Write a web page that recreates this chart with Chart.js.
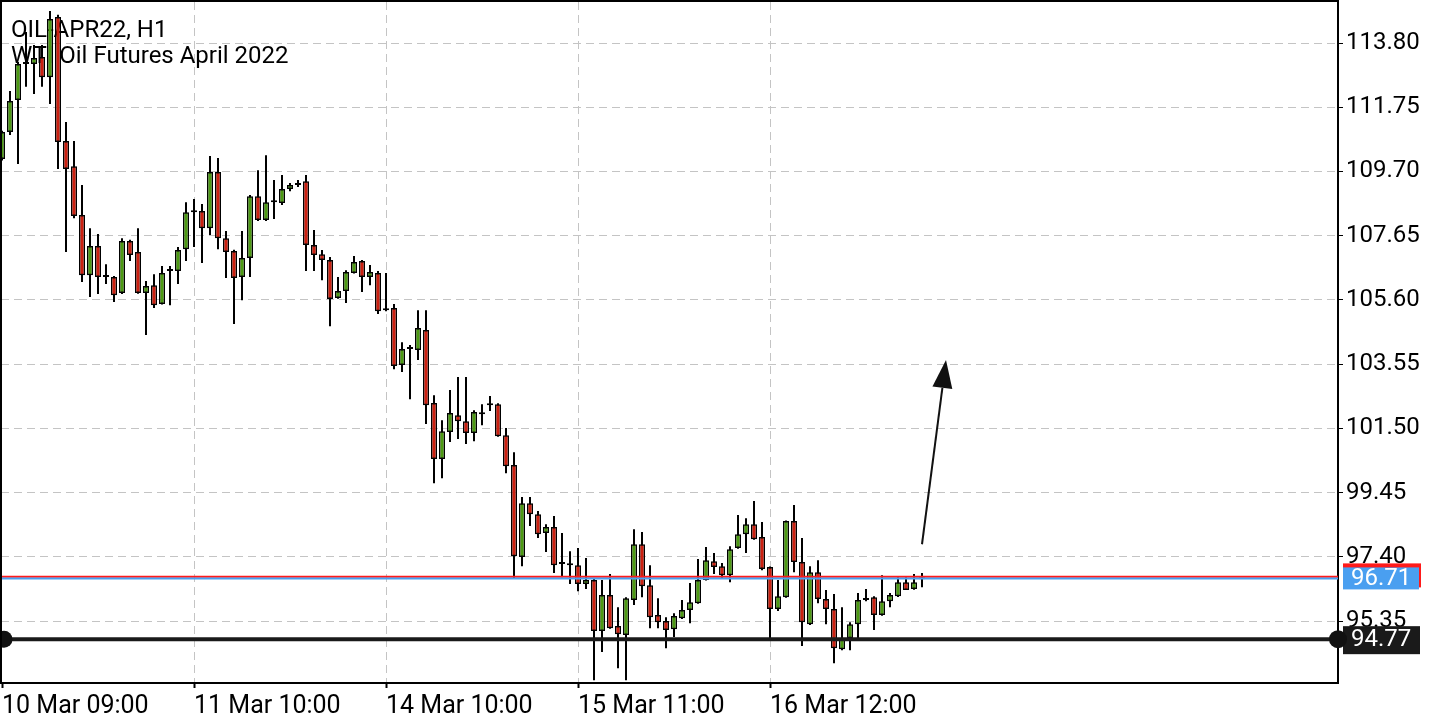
<!DOCTYPE html>
<html><head><meta charset="utf-8">
<script src="https://cdn.jsdelivr.net/npm/chart.js@4.4.1/dist/chart.umd.min.js"></script>
<style>html,body{margin:0;padding:0;background:#fff;overflow:hidden}#wrap{width:1440px;height:720px;position:relative}</style>
</head><body><div id="wrap"><canvas id="c" width="1440" height="720"></canvas></div>
<script>
const symbolTitle = 'OIL-APR22, H1';
const symbolDesc = 'WTI Oil Futures April 2022';

const opens = [110.10,110.96,111.98,113.13,113.13,113.35,112.71,114.63,110.67,109.87,
108.31,106.39,107.32,106.33,106.33,105.82,107.48,107.13,105.82,106.07,
105.47,106.52,106.52,107.22,108.40,108.44,107.89,109.68,107.57,107.16,
106.33,106.94,108.91,108.15,108.72,108.69,109.14,109.27,109.39,107.35,
107.06,106.87,105.66,105.88,106.46,106.84,106.33,106.46,105.27,105.34,
103.52,104.03,104.00,104.64,102.31,100.52,101.38,101.92,101.73,101.35,
101.95,102.24,102.27,101.28,100.33,97.39,99.11,98.76,98.16,98.35,
97.17,97.13,97.13,96.53,96.66,95.03,96.18,95.19,94.90,96.02,
97.80,96.49,95.54,95.35,95.09,95.44,95.70,95.92,96.66,97.26,
97.10,96.81,97.68,98.12,98.44,98.03,97.07,95.73,96.11,98.54,
97.23,95.25,96.91,96.05,95.73,94.45,94.80,95.25,96.02,96.11,
95.54,95.98,96.14,96.59,96.37,96.68];
const highs = [111.00,112.27,113.19,114.15,113.74,113.74,114.82,114.70,111.28,110.67,
109.27,107.89,107.70,106.74,106.36,107.57,107.52,107.89,106.20,106.42,
106.68,106.68,107.29,108.72,108.82,108.66,110.19,110.13,107.80,107.20,
107.80,108.95,109.74,110.22,109.43,109.59,109.33,109.43,109.59,107.83,
107.19,106.97,106.33,106.55,107.00,106.87,106.71,106.52,106.46,105.47,
104.25,104.16,105.27,105.27,102.56,101.76,102.72,103.14,103.14,102.08,
102.27,102.53,102.30,101.51,100.74,99.31,99.31,98.86,98.44,98.70,
98.16,97.58,97.68,97.36,96.69,96.66,96.85,95.79,96.11,98.28,
98.19,97.13,96.08,95.47,95.60,96.02,96.56,97.33,97.71,97.52,
97.20,97.74,98.73,98.63,99.18,98.51,97.09,96.66,98.56,99.05,
98.00,97.10,97.29,96.34,96.21,95.79,95.31,96.24,96.37,96.14,
96.81,96.24,96.75,96.75,96.85,96.88];
const lows = [110.05,110.86,109.94,112.40,112.17,112.40,111.85,109.78,107.13,108.21,
106.17,105.69,105.79,106.11,105.53,105.79,106.84,105.80,104.48,105.34,
105.45,105.43,106.11,106.84,107.29,106.78,107.67,107.22,106.30,104.83,
105.59,106.33,108.12,108.12,108.18,108.63,109.07,109.20,106.52,106.52,
106.23,104.76,105.64,105.50,106.44,105.85,106.07,105.15,105.24,103.39,
103.30,102.43,103.68,101.64,99.75,99.91,101.06,101.16,101.00,101.09,
101.60,102.05,101.23,100.07,96.69,97.10,98.38,98.00,97.55,96.88,
96.75,96.53,96.30,96.37,93.46,94.36,95.10,93.84,93.46,95.86,
96.11,95.12,95.12,94.48,94.84,95.41,95.28,95.90,96.64,96.85,
96.69,96.59,97.66,97.52,97.94,96.97,94.80,95.67,96.09,96.91,
94.55,95.22,95.92,95.25,94.00,94.42,94.42,94.77,95.98,95.06,
95.52,95.79,96.12,96.34,96.35,96.43];
const closes = [110.96,111.95,113.13,113.13,113.32,112.71,114.57,110.64,109.78,108.28,
106.39,107.32,106.33,106.33,105.75,107.48,107.03,105.82,106.04,105.43,
106.46,106.52,107.19,108.40,108.40,107.89,109.68,107.57,107.13,106.30,
106.94,108.91,108.15,108.72,108.72,109.14,109.27,109.27,107.35,107.03,
106.87,105.63,105.88,106.49,106.81,106.33,106.49,105.24,105.27,103.49,
104.03,104.03,104.70,102.24,100.52,101.41,101.99,101.73,101.35,102.02,
101.95,102.24,101.25,100.29,97.42,99.11,98.76,98.12,98.35,97.13,
97.17,97.13,96.53,96.66,95.03,96.18,95.12,94.93,96.08,97.80,
96.46,95.47,95.31,95.06,95.51,95.70,95.95,96.66,97.29,97.07,
96.81,97.64,98.12,98.44,97.96,97.01,95.73,96.14,98.54,97.23,
95.31,96.91,96.05,95.73,94.48,94.80,95.25,96.02,96.02,95.54,
95.98,96.18,96.59,96.34,96.59,96.68];

const tickPositions = [0, 24, 48, 72, 96];
const tickLabels = ['10 Mar 09:00', '11 Mar 10:00', '14 Mar 10:00', '15 Mar 11:00', '16 Mar 12:00'];
const priceTicks = [113.80, 111.75, 109.70, 107.65, 105.60, 103.55, 101.50, 99.45, 97.40, 95.35];
const bidPrice = 96.71;
const askPrice = 96.76;
const levelPrice = 94.77;
const arrowFrom = [115, 97.80];
const arrowTo = [118, 103.68];

const GREEN = '#4c9a12';
const RED = '#cc2010';
const FONT = 'Roboto';
const FS = 24;

const bodyData = opens.map((o, i) => ({x: i, y: [o, closes[i]]}));
const wickData = lows.map((l, i) => ({x: i, y: [l, highs[i]]}));

const overlay = {
  id: 'overlay',
  beforeDatasetsDraw(chart) {
    const ctx = chart.ctx;
    ctx.save();
    ctx.fillStyle = '#000';
    ctx.font = FS + 'px ' + FONT;
    ctx.textBaseline = 'alphabetic';
    ctx.textAlign = 'left';
    ctx.fillText(symbolTitle, 11, 37);
    ctx.fillText(symbolDesc, 11, 63);
    ctx.restore();
  },
  afterDatasetsDraw(chart) {
    const ctx = chart.ctx, xs = chart.scales.x, ys = chart.scales.y, a = chart.chartArea;
    ctx.save();
    const yAsk = ys.getPixelForValue(askPrice), yBid = ys.getPixelForValue(bidPrice);
    ctx.lineWidth = 2;
    ctx.strokeStyle = '#ff1a1a';
    ctx.beginPath(); ctx.moveTo(a.left, yAsk); ctx.lineTo(a.right, yAsk); ctx.stroke();
    ctx.strokeStyle = '#4a9ff0';
    ctx.beginPath(); ctx.moveTo(a.left, yBid); ctx.lineTo(a.right, yBid); ctx.stroke();
    const yL = ys.getPixelForValue(levelPrice);
    ctx.lineWidth = 4;
    ctx.strokeStyle = '#1a1a1a';
    ctx.beginPath(); ctx.moveTo(a.left, yL); ctx.lineTo(a.right, yL); ctx.stroke();
    ctx.fillStyle = '#111';
    ctx.beginPath(); ctx.arc(a.left + 3, yL, 8.5, 0, Math.PI * 2); ctx.fill();
    const x1 = xs.getPixelForValue(arrowFrom[0]), y1 = ys.getPixelForValue(arrowFrom[1]);
    const x2 = xs.getPixelForValue(arrowTo[0]), y2 = ys.getPixelForValue(arrowTo[1]);
    const ang = Math.atan2(y2 - y1, x2 - x1);
    const hl = 28, hw = 10;
    const bx = x2 - hl * Math.cos(ang), by = y2 - hl * Math.sin(ang);
    ctx.strokeStyle = '#111';
    ctx.lineWidth = 2;
    ctx.beginPath(); ctx.moveTo(x1, y1); ctx.lineTo(bx, by); ctx.stroke();
    ctx.fillStyle = '#111';
    ctx.beginPath();
    ctx.moveTo(x2, y2);
    ctx.lineTo(bx + hw * Math.sin(ang), by - hw * Math.cos(ang));
    ctx.lineTo(bx - hw * Math.sin(ang), by + hw * Math.cos(ang));
    ctx.closePath(); ctx.fill();
    ctx.restore();
  },
  afterDraw(chart) {
    const ctx = chart.ctx, ys = chart.scales.y, a = chart.chartArea;
    ctx.save();
    ctx.strokeStyle = '#000'; ctx.lineWidth = 2;
    ctx.beginPath(); ctx.moveTo(a.left, 1); ctx.lineTo(a.right + 1, 1); ctx.stroke();
    ctx.beginPath(); ctx.moveTo(1, 0); ctx.lineTo(1, a.bottom); ctx.stroke();
    const yBid = ys.getPixelForValue(bidPrice);
    ctx.fillStyle = '#ff1a1a';
    ctx.fillRect(a.right + 5, yBid - 15, 78, 24);
    ctx.fillStyle = '#4a9ff0';
    ctx.fillRect(a.right + 5, yBid - 11, 76, 22);
    ctx.fillStyle = '#fff';
    ctx.font = FS + 'px ' + FONT;
    ctx.textBaseline = 'middle';
    ctx.fillText(bidPrice.toFixed(2), a.right + 13, yBid + 1);
    const yL = ys.getPixelForValue(levelPrice);
    ctx.fillStyle = '#1a1a1a';
    ctx.fillRect(a.right + 5, yL - 13, 77, 28);
    ctx.fillStyle = '#111';
    ctx.beginPath(); ctx.arc(a.right, yL, 9, 0, Math.PI * 2); ctx.fill();
    ctx.fillStyle = '#fff';
    ctx.fillText(levelPrice.toFixed(2), a.right + 13, yL + 1);
    ctx.restore();
  }
};

new Chart(document.getElementById('c'), {
  type: 'bar',
  data: {
    datasets: [
      {
        label: 'body', data: bodyData, order: 0, grouped: false,
        barThickness: 6, minBarLength: 2, borderWidth: 1.5, borderSkipped: false,
        borderColor: '#000', inflateAmount: 0,
        backgroundColor: c => {
          const i = c.dataIndex;
          if (closes[i] > opens[i]) return GREEN;
          if (closes[i] < opens[i]) return RED;
          return '#000';
        }
      },
      {
        label: 'wick', data: wickData, order: 1, grouped: false,
        barThickness: 2, borderWidth: 0, backgroundColor: '#000', inflateAmount: 0
      }
    ]
  },
  options: {
    responsive: false, animation: false, devicePixelRatio: 1,
    layout: {padding: {left: 1, top: 2, right: 0, bottom: 0}},
    plugins: {legend: {display: false}, tooltip: {enabled: false}, title: {display: false}},
    scales: {
      x: {
        type: 'linear', min: -0.125, max: 167, offset: false,
        afterBuildTicks: s => { const t = []; for (let v = 0; v <= 160; v += 8) t.push({value: v}); s.ticks = t; },
        afterFit: s => { s.height = 37; s.paddingLeft = 0; s.paddingRight = 0; },
        ticks: {
          autoSkip: false, maxRotation: 0, minRotation: 0, align: 'start', padding: 4,
          color: '#000', font: {family: FONT, size: 25},
          callback: v => { const k = tickPositions.indexOf(v); return k >= 0 ? tickLabels[k] : null; }
        },
        grid: {
          offset: false, color: c => (c.tick && c.tick.value === 0) ? 'rgba(0,0,0,0)' : '#c4c4c4',
          lineWidth: 1, drawTicks: true, tickLength: 5, tickWidth: 2,
          tickColor: c => (c.tick && tickPositions.includes(c.tick.value)) ? '#000' : 'rgba(0,0,0,0)'
        },
        border: {display: true, color: '#000', width: 2, dash: [8, 5]}
      },
      y: {
        type: 'linear', position: 'right', min: 93.371, max: 115.109,
        afterBuildTicks: s => { s.ticks = priceTicks.map(v => ({value: v})); },
        afterFit: s => { s.width = 102; s.paddingTop = 0; s.paddingBottom = 0; },
        ticks: {
          autoSkip: false, padding: 3, color: '#000', font: {family: FONT, size: FS},
          callback: v => Number(v).toFixed(2)
        },
        grid: {color: '#c4c4c4', lineWidth: 1, drawTicks: true, tickLength: 5, tickWidth: 1, tickColor: '#000'},
        border: {display: true, color: '#000', width: 2, dash: [8, 5]}
      }
    }
  },
  plugins: [overlay]
});
</script>
</body></html>
